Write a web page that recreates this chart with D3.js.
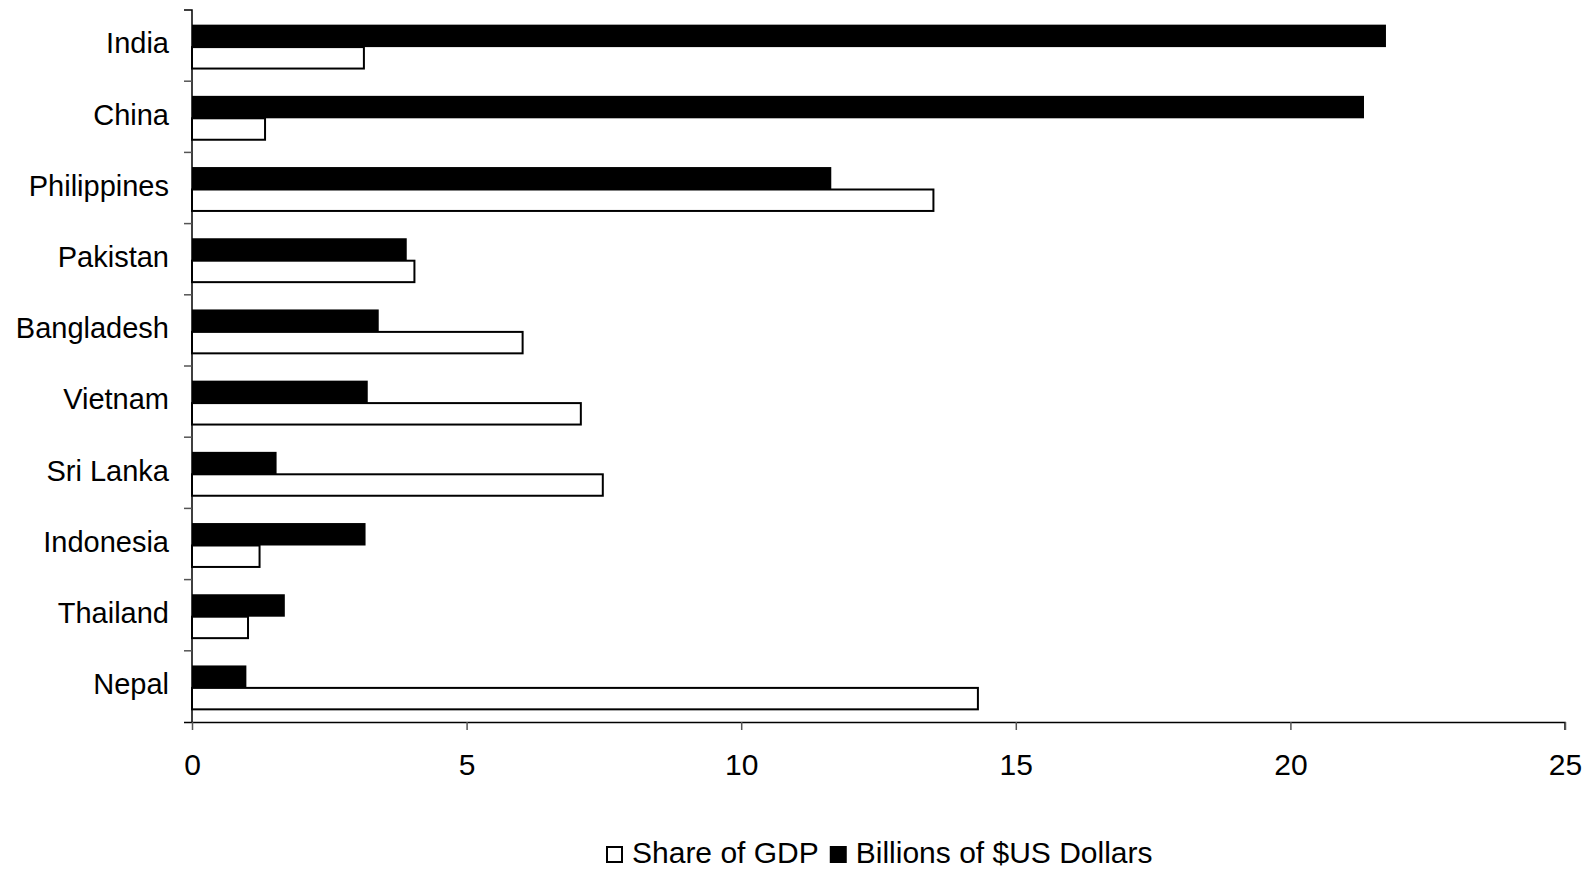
<!DOCTYPE html>
<html>
<head>
<meta charset="utf-8">
<script src="https://cdn.jsdelivr.net/npm/d3@7"></script>
<style>
  html, body { margin: 0; padding: 0; background: #fff; }
  svg { display: block; }
  text { font-family: "Liberation Sans", Arial, sans-serif; fill: #000; }
</style>
</head>
<body>
<svg id="chart" width="1595" height="869"></svg>
<script>
// ---- data ----
const categories = ["India", "China", "Philippines", "Pakistan", "Bangladesh", "Vietnam", "Sri Lanka", "Indonesia", "Thailand", "Nepal"];
const billionsUSD = [21.74, 21.34, 11.64, 3.91, 3.40, 3.20, 1.54, 3.16, 1.69, 0.99];
const shareGDP = [3.13, 1.33, 13.50, 4.05, 6.02, 7.08, 7.48, 1.23, 1.02, 14.31];
const xTicks = [0, 5, 10, 15, 20, 25];
const seriesNames = ["Billions of $US Dollars", "Share of GDP"];
const legendOrder = ["Share of GDP", "Billions of $US Dollars"];

const svg = d3.select("#chart");
const mLeft = 192, mRight = 1565, mTop = 10, mBottom = 722;

const x = d3.scaleLinear().domain([0, 25]).range([mLeft, mRight]);
const y = d3.scaleBand().domain(categories).range([mTop, mBottom]).padding(0);
const ySub = d3.scaleBand().domain(seriesNames).range([1.5, y.bandwidth() + 1.5])
  .paddingInner(0).paddingOuter(0.66);

const rows = categories.map((c, i) => ({ c, b: billionsUSD[i], s: shareGDP[i] }));

// white (share of GDP) bars
svg.append("g").selectAll("rect").data(rows).join("rect")
  .attr("x", x(0))
  .attr("y", d => y(d.c) + ySub("Share of GDP"))
  .attr("width", d => x(d.s) - x(0))
  .attr("height", ySub.bandwidth())
  .attr("fill", "#fff").attr("stroke", "#000").attr("stroke-width", 2);

// black (billions) bars
svg.append("g").selectAll("rect").data(rows).join("rect")
  .attr("x", x(0))
  .attr("y", d => y(d.c) + ySub("Billions of $US Dollars") - 1)
  .attr("width", d => x(d.b) - x(0))
  .attr("height", ySub.bandwidth() + 1)
  .attr("fill", "#000");

// x axis
const xAxis = svg.append("g").attr("transform", `translate(0,${mBottom})`)
  .call(d3.axisBottom(x).tickValues(xTicks).tickSize(8).tickPadding(24).tickFormat(d3.format("d")));
xAxis.select(".domain").attr("stroke", "#000").attr("stroke-width", 1.5).attr("d", `M${mLeft - 8},0.5H${mRight}V8`);
xAxis.selectAll(".tick line").attr("stroke", "#555").attr("stroke-width", 1.5);
xAxis.selectAll(".tick text").attr("font-size", 30).attr("font-family", "Liberation Sans, Arial, sans-serif").attr("fill", "#000");

// y axis
const yAxis = svg.append("g").attr("transform", `translate(${mLeft},0)`)
  .call(d3.axisLeft(y).tickSize(0).tickPadding(23));
yAxis.select(".domain").attr("stroke", "#000").attr("stroke-width", 1.5).attr("d", `M-8,${mTop}H0V${mBottom}`);
yAxis.selectAll(".tick text").attr("font-size", 29).attr("dy", "0.27em")
  .attr("font-family", "Liberation Sans, Arial, sans-serif").attr("fill", "#000");
// category separator ticks
svg.append("g").selectAll("line").data(categories.slice(1)).join("line")
  .attr("x1", mLeft - 8).attr("x2", mLeft)
  .attr("y1", d => y(d)).attr("y2", d => y(d))
  .attr("stroke", "#555").attr("stroke-width", 1.5);

// legend
const legend = svg.append("g").attr("transform", "translate(606,0)");
const legY = 863, sq = 17;
let cx = 0;
legendOrder.forEach((name) => {
  const g = legend.append("g");
  g.append("rect").attr("x", cx + 1).attr("y", legY - sq + 1).attr("width", sq - 2).attr("height", sq - 2)
    .attr("fill", name === "Share of GDP" ? "#fff" : "#000").attr("stroke", "#000").attr("stroke-width", 2);
  const t = g.append("text").attr("x", cx + sq + 9).attr("y", legY).attr("font-size", 30).text(name);
  cx += sq + 9 + t.node().getComputedTextLength() + 11;
});
</script>
</body>
</html>
